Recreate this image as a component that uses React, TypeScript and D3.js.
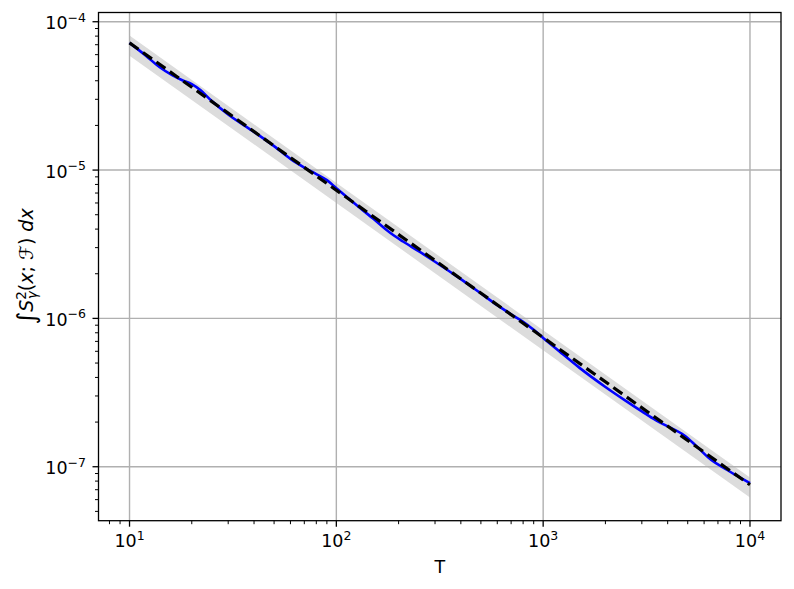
import React from "react";
import * as d3 from "d3";

// Blue measured curve
const T_VALUES = [10, 12, 14, 16, 18, 20, 22, 25, 30, 40, 50, 60, 70, 80, 90, 100, 120, 150, 180, 210, 250, 300, 400, 500, 600, 700, 800, 900, 1000, 1200, 1500, 2000, 2500, 3000, 3500, 4000, 4800, 5500, 6500, 7500, 8500, 10000];
const S_VALUES = [7.2e-5, 5.9e-5, 4.93e-5, 4.38e-5, 4.03e-5, 3.8e-5, 3.46e-5, 2.92e-5, 2.37e-5, 1.81e-5, 1.45e-5, 1.19e-5, 1.04e-5, 9.39e-6, 8.55e-6, 7.55e-6, 6.09e-6, 4.73e-6, 3.82e-6, 3.3e-6, 2.84e-6, 2.41e-6, 1.838e-6, 1.472e-6, 1.228e-6, 1.065e-6, 9.5e-7, 8.37e-7, 7.39e-7, 5.98e-7, 4.64e-7, 3.45e-7, 2.79e-7, 2.36e-7, 2.06e-7, 1.87e-7, 1.63e-7, 1.38e-7, 1.11e-7, 9.8e-8, 8.8e-8, 7.75e-8];

// Dashed fit line and grey band (straight in log-log)
const FIT_T = [10, 10000];
const FIT_VALUES = [7.2e-5, 7.553e-8];
const BAND_UPPER = [8.064e-5, 8.459e-8];
const BAND_LOWER = [5.904e-5, 6.193e-8];

const X_MAJOR = [10, 100, 1000, 10000];
const X_EXP = ["1", "2", "3", "4"];
const Y_MAJOR = [1e-4, 1e-5, 1e-6, 1e-7];
const Y_EXP = ["−4", "−5", "−6", "−7"];

const W = 794;
const H = 589;
const L = 98.5, R = 781, TOP = 12.5, BOT = 520.7;
const FONT = "DejaVu Sans, sans-serif";

function logDomain(vals: number[]): [number, number] {
  const lo = Math.log10(d3.min(vals)!);
  const hi = Math.log10(d3.max(vals)!);
  const m = (hi - lo) * 0.05;
  return [Math.pow(10, lo - m), Math.pow(10, hi + m)];
}

export default function App() {
  const x = d3.scaleLog().domain(logDomain([...T_VALUES, ...FIT_T])).range([L, R]);
  const y = d3
    .scaleLog()
    .domain(logDomain([...BAND_UPPER, ...BAND_LOWER]))
    .range([BOT, TOP]);

  const [xd0, xd1] = x.domain();
  const [yd0, yd1] = y.domain();
  const xMinor: number[] = [];
  for (let e = 0; e <= 4; e++) for (let k = 2; k <= 9; k++) {
    const v = k * Math.pow(10, e);
    if (v >= xd0 && v <= xd1) xMinor.push(v);
  }
  const yMinor: number[] = [];
  for (let e = -8; e <= -4; e++) for (let k = 2; k <= 9; k++) {
    const v = k * Math.pow(10, e);
    if (v >= yd0 && v <= yd1) yMinor.push(v);
  }

  const line = d3
    .line<[number, number]>()
    .x((d) => x(d[0]))
    .y((d) => y(d[1]))
    .curve(d3.curveMonotoneX);
  const blue = line(T_VALUES.map((t, i) => [t, S_VALUES[i]]))!;
  const fit = d3
    .line<[number, number]>()
    .x((d) => x(d[0]))
    .y((d) => y(d[1]))(FIT_T.map((t, i) => [t, FIT_VALUES[i]]))!;
  const band = d3
    .area<number>()
    .x((_, i) => x(FIT_T[i]))
    .y0((_, i) => y(BAND_LOWER[i]))
    .y1((_, i) => y(BAND_UPPER[i]))(FIT_T)!;

  const gridColor = "#b0b0b0";

  return (
    <svg width={W} height={H} style={{ position: "absolute", left: 0, top: 0, background: "#fff" }}>
      <defs>
        <clipPath id="plot">
          <rect x={L} y={TOP} width={R - L} height={BOT - TOP} />
        </clipPath>
      </defs>
      <rect x={0} y={0} width={W} height={H} fill="#fff" />
      <g clipPath="url(#plot)">
        <path d={band} fill="#dcdcdc" />
        {X_MAJOR.map((v) => (
          <line key={"gx" + v} x1={x(v)} x2={x(v)} y1={TOP} y2={BOT} stroke={gridColor} strokeWidth={1.4} />
        ))}
        {Y_MAJOR.map((v) => (
          <line key={"gy" + v} x1={L} x2={R} y1={y(v)} y2={y(v)} stroke={gridColor} strokeWidth={1.4} />
        ))}
        <path d={blue} fill="none" stroke="#0000ff" strokeWidth={2.6} strokeLinejoin="round" />
        <path d={fit} fill="none" stroke="#000" strokeWidth={3.2} strokeDasharray="11,5.5" />
      </g>
      <rect x={L} y={TOP} width={R - L} height={BOT - TOP} fill="none" stroke="#000" strokeWidth={1.3} />
      {/* x ticks */}
      {X_MAJOR.map((v, i) => (
        <g key={"xt" + v}>
          <line x1={x(v)} x2={x(v)} y1={BOT} y2={BOT + 6} stroke="#000" strokeWidth={1.3} />
          <text x={x(v)} y={547} fontFamily={FONT} fontSize={17.5} textAnchor="middle" fill="#000">
            <tspan>10</tspan>
            <tspan dy={-7.5} fontSize={12.5}>{X_EXP[i]}</tspan>
          </text>
        </g>
      ))}
      {xMinor.map((v) => (
        <line key={"xm" + v} x1={x(v)} x2={x(v)} y1={BOT} y2={BOT + 3.5} stroke="#000" strokeWidth={1.0} />
      ))}
      {/* y ticks */}
      {Y_MAJOR.map((v, i) => (
        <g key={"yt" + v}>
          <line x1={L - 6} x2={L} y1={y(v)} y2={y(v)} stroke="#000" strokeWidth={1.3} />
          <text x={86} y={y(v) + 7.5} fontFamily={FONT} fontSize={17.5} textAnchor="end" fill="#000">
            <tspan>10</tspan>
            <tspan dy={-7.5} fontSize={12.5}>{Y_EXP[i]}</tspan>
          </text>
        </g>
      ))}
      {yMinor.map((v) => (
        <line key={"ym" + v} x1={L - 3.5} x2={L} y1={y(v)} y2={y(v)} stroke="#000" strokeWidth={1.0} />
      ))}
      <text x={(L + R) / 2} y={573} fontFamily={FONT} fontSize={17.5} textAnchor="middle" fill="#000">
        T
      </text>
      <text
        transform={`translate(33,${(TOP + BOT) / 2}) rotate(-90)`}
        fontFamily={FONT}
        fontSize={19}
        textAnchor="middle"
        fill="#000"
      >
        <tspan fontSize={25} dy={2}>∫</tspan>
        <tspan fontStyle="italic" dy={-2}>S</tspan>
        <tspan dy={-7} fontSize={13.5}>2</tspan>
        <tspan dx={-8} dy={11} fontSize={13.5} fontStyle="italic">γ</tspan>
        <tspan dy={-4}>(</tspan>
        <tspan fontStyle="italic">x</tspan>
        <tspan>; </tspan>
        <tspan fontStyle="italic">ℱ</tspan>
        <tspan>) </tspan>
        <tspan fontStyle="italic">dx</tspan>
      </text>
    </svg>
  );
}
